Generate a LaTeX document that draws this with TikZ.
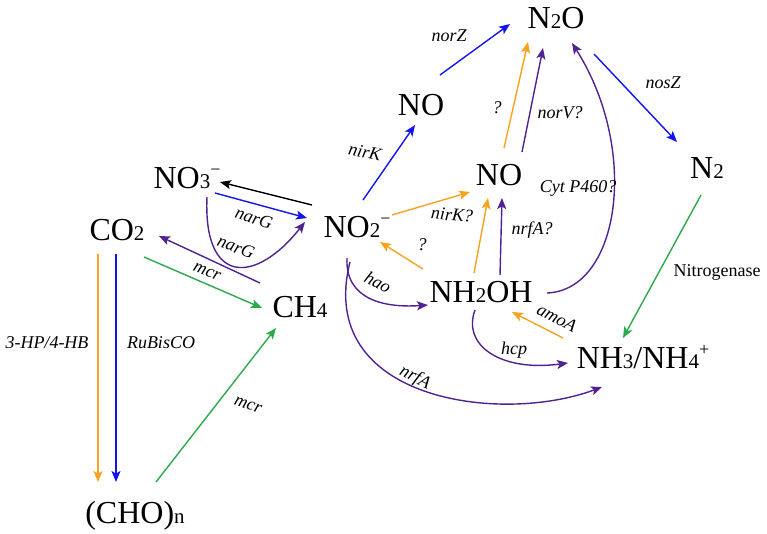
\documentclass[tikz,border=0pt]{standalone}
\usepackage{fontspec}
\setmainfont{Liberation Serif}
\usetikzlibrary{arrows.meta}
\definecolor{corange}{RGB}{247,163,31}
\definecolor{cblue}{RGB}{20,20,240}
\definecolor{cpurple}{RGB}{80,35,145}
\definecolor{cgreen}{RGB}{45,170,75}
\newcommand\sbs[1]{{\fontsize{21}{21}\selectfont #1}}
\newcommand\sps[1]{\raisebox{13pt}{\fontsize{18}{18}\selectfont #1}}
\begin{document}
\begin{tikzpicture}[x=1pt,y=-1pt,
  main/.style={inner sep=0pt,anchor=base,font=\fontsize{32}{36}\selectfont},
  lab/.style={inner sep=0pt,font=\fontsize{18}{20}\selectfont\itshape},
  labup/.style={inner sep=0pt,font=\fontsize{18}{20}\selectfont},
  arr/.style={line width=1.4pt,-{Stealth[length=11pt,width=9pt,inset=2.5pt]}},
  oarr/.style={arr,draw=corange,fill=corange},
  barr/.style={arr,draw=cblue,fill=cblue},
  parr/.style={arr,draw=cpurple,fill=cpurple},
  garr/.style={arr,draw=cgreen,fill=cgreen},
  karr/.style={arr,draw=black,fill=black}]
\useasboundingbox (0,0) rectangle (767,533);
% main nodes
\node[main] (n2o) at (556,28) {N\sbs{2}O};
\node[main] (noa) at (421,115) {NO};
\node[main] (nob) at (499,185) {NO};
\node[main] (n2) at (707,178) {N\sbs{2}};
\node[main] (no3) at (187,188) {NO\sbs{3}\sps{−}};
\node[main] (no2) at (357,237) {NO\sbs{2}\sps{−}};
\node[main] (co2) at (117,240) {CO\sbs{2}};
\node[main] (ch4) at (300,317) {CH\sbs{4}};
\node[main] (nh2oh) at (481,302) {NH\sbs{2}OH};
\node[main] (nh3) at (643,368) {NH\sbs{3}/NH\sbs{4}\sps{+}};
\node[main] (cho) at (135,523) {(CHO)\sbs{n}};
% straight connectors
\draw[barr] ([shift={(19,-40)}]noa.base) -- ([shift={(-46,-4)}]n2o.base);
\draw[barr] ([shift={(6,-37)}]no2.base) -- ([shift={(-6,10)}]noa.base);
\draw[barr] ([shift={(38,26)}]n2o.base) -- ([shift={(-30,-36)}]n2.base);
\draw[garr] ([shift={(-6,17)}]n2.base) -- ([shift={(-20,-30)}]nh3.base);
\draw[oarr] ([shift={(5,-37)}]nob.base) -- ([shift={(-28,14)}]n2o.base);
\draw[parr] ([shift={(23,-33)}]nob.base) -- ([shift={(-13,20)}]n2o.base);
\draw[oarr] ([shift={(35,-22)}]no2.base) -- ([shift={(-29,7)}]nob.base);
\draw[oarr] ([shift={(-58,-33)}]nh2oh.base) -- ([shift={(23,5)}]no2.base);
\draw[oarr] ([shift={(-7,-29)}]nh2oh.base) -- ([shift={(-11,13)}]nob.base);
\draw[parr] ([shift={(19,-27)}]nh2oh.base) -- ([shift={(3,13)}]nob.base);
\draw[oarr] ([shift={(-80,-30)}]nh3.base) -- ([shift={(31,10)}]nh2oh.base);
\draw[karr] ([shift={(-45,-32)}]no2.base) -- ([shift={(33,-6)}]no3.base);
\draw[barr] ([shift={(28,5)}]no3.base) -- ([shift={(-50,-19)}]no2.base);
\draw[parr] ([shift={(-40,-34)}]ch4.base) -- ([shift={(42,-4)}]co2.base);
\draw[garr] ([shift={(27,17)}]co2.base) -- ([shift={(-38,-9)}]ch4.base);
\draw[oarr] ([shift={(-19,14)}]co2.base) -- ([shift={(-37,-41)}]cho.base);
\draw[barr] ([shift={(-1,14)}]co2.base) -- ([shift={(-19,-41)}]cho.base);
\draw[garr] ([shift={(21,-41)}]cho.base) -- ([shift={(-24,11)}]ch4.base);
% curved connectors
\draw[parr,fill=none] ([shift={(66,-9)}]nh2oh.base) .. controls (620,290) and (640,150) .. ([shift={(16,15)}]n2o.base);
\draw[parr,fill=none] ([shift={(20,9)}]no3.base) .. controls (203,285) and (255,285) .. ([shift={(-52,-15)}]no2.base);
\draw[parr,fill=none] ([shift={(-10,21)}]no2.base) .. controls (345,300) and (385,308) .. ([shift={(-53,3)}]nh2oh.base);
\draw[parr,fill=none] ([shift={(-7,25)}]no2.base) .. controls (315,400) and (500,425) .. ([shift={(-41,19)}]nh3.base);
\draw[parr,fill=none] ([shift={(-6,8)}]nh2oh.base) .. controls (462,345) and (500,372) .. ([shift={(-75,-5)}]nh3.base);
% labels
\node[lab] (l1) at (449,36) {norZ};
\node[lab,rotate=-12] (l2) at (365,152) {nirK};
\node[lab] (l3) at (663,83) {nosZ};
\node[labup] (l4) at (717,272) {Nitrogenase};
\node[lab] (l5) at (497,108) {?};
\node[lab] (l6) at (560,113) {norV?};
\node[lab] (l7) at (578,188) {Cyt P460?};
\node[lab,rotate=-5] (l8) at (452,215) {nirK?};
\node[lab] (l9) at (422,245) {?};
\node[lab] (l10) at (532,230) {nrfA?};
\node[lab,rotate=-28] (l11) at (378,282) {hao};
\node[lab,rotate=-27] (l12) at (415,378) {nrfA};
\node[lab] (l13) at (514,350) {hcp};
\node[lab,rotate=-28] (l14) at (557,318) {amoA};
\node[lab,rotate=-18] (l15) at (254,218) {narG};
\node[lab,rotate=-21] (l16) at (236,247) {narG};
\node[lab,rotate=-22] (l17) at (207,272) {mcr};
\node[lab] (l18) at (47,343) {3-HP/4-HB};
\node[lab] (l19) at (161,343) {RuBisCO};
\node[lab,rotate=-20] (l20) at (248,405) {mcr};
\end{tikzpicture}
\end{document}
